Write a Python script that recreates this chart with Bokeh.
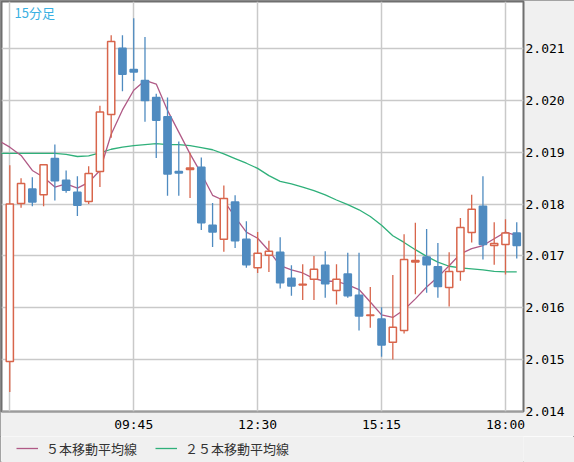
from bokeh.plotting import figure
from bokeh.layouts import column
from bokeh.models import Range1d, FixedTicker, Legend, LegendItem, Label, ColumnDataSource, NumeralTickFormatter
from bokeh.embed import file_html
from bokeh.resources import INLINE

# ---- data (15-minute bars) ----
opens = [2.01496, 2.01801, 2.01829, 2.01818, 2.01888, 2.01846, 2.01823, 2.01805, 2.01863, 2.01973,
         2.02101, 2.02060, 2.02039, 2.02006, 2.01969, 2.01863, 2.01867, 2.01871, 2.01759, 2.01732,
         2.01804, 2.01732, 2.01677, 2.01701, 2.01707, 2.01657, 2.01644, 2.01655, 2.01682, 2.01633,
         2.01665, 2.01624, 2.01585, 2.01578, 2.01533, 2.01556, 2.01688, 2.01698, 2.01679, 2.01639,
         2.01670, 2.01745, 2.01796, 2.01720, 2.01722, 2.01744]
highs = [2.01875, 2.01850, 2.01852, 2.01876, 2.01915, 2.01865, 2.01854, 2.01873, 2.01990, 2.02126,
         2.02126, 2.02159, 2.02123, 2.02013, 2.02006, 2.01921, 2.01899, 2.01890, 2.01802, 2.01836,
         2.01817, 2.01767, 2.01746, 2.01729, 2.01736, 2.01682, 2.01684, 2.01700, 2.01709, 2.01684,
         2.01706, 2.01706, 2.01640, 2.01601, 2.01663, 2.01742, 2.01764, 2.01752, 2.01725, 2.01707,
         2.01773, 2.01818, 2.01854, 2.01765, 2.01771, 2.01765]
lows = [2.01437, 2.01793, 2.01796, 2.01796, 2.01807, 2.01822, 2.01777, 2.01800, 2.01833, 2.01928,
        2.02018, 2.02038, 2.01959, 2.01889, 2.01816, 2.01816, 2.01812, 2.01750, 2.01717, 2.01708,
        2.01715, 2.01677, 2.01667, 2.01669, 2.01637, 2.01623, 2.01615, 2.01615, 2.01619, 2.01606,
        2.01619, 2.01556, 2.01561, 2.01505, 2.01500, 2.01550, 2.01626, 2.01629, 2.01619, 2.01602,
        2.01652, 2.01726, 2.01693, 2.01683, 2.01664, 2.01695]
closes = [2.01800, 2.01840, 2.01804, 2.01876, 2.01845, 2.01827, 2.01798, 2.01859, 2.01978, 2.02114,
          2.02051, 2.02055, 2.02000, 2.01962, 2.01858, 2.01860, 2.01870, 2.01764, 2.01746, 2.01811,
          2.01729, 2.01683, 2.01705, 2.01709, 2.01648, 2.01642, 2.01645, 2.01674, 2.01646, 2.01655,
          2.01623, 2.01584, 2.01586, 2.01528, 2.01562, 2.01693, 2.01691, 2.01683, 2.01641, 2.01670,
          2.01755, 2.01790, 2.01722, 2.01724, 2.01744, 2.01720]

# moving averages, starting one bar before the first visible candle
ma5 = [2.01923, 2.01910, 2.01894, 2.01865, 2.01852, 2.01833, 2.01839, 2.01831, 2.01842, 2.01865,
       2.01935, 2.01982, 2.02020, 2.02039, 2.02032, 2.01981, 2.01939, 2.01897, 2.01859, 2.01817,
       2.01807, 2.01775, 2.01746, 2.01734, 2.01710, 2.01681, 2.01673, 2.01667, 2.01656, 2.01651,
       2.01651, 2.01644, 2.01635, 2.01611, 2.01586, 2.01581, 2.01596, 2.01617, 2.01640, 2.01659,
       2.01681, 2.01704, 2.01714, 2.01720, 2.01733, 2.01746, 2.01739]
ma25 = [2.01898, 2.01898, 2.01898, 2.01898, 2.01898, 2.01898, 2.01896, 2.01892, 2.01893, 2.01899,
        2.01906, 2.01910, 2.01913, 2.01915, 2.01917, 2.01915, 2.01915, 2.01913, 2.01909, 2.01905,
        2.01897, 2.01888, 2.01879, 2.01869, 2.01855, 2.01844, 2.01839, 2.01833, 2.01826, 2.01818,
        2.01808, 2.01799, 2.01789, 2.01776, 2.01759, 2.01739, 2.01726, 2.01712, 2.01699, 2.01688,
        2.01680, 2.01677, 2.01675, 2.01673, 2.01670, 2.01669, 2.01669]

x_tick_pos = [0, 11, 22, 33, 44]
x_tick_labels = ["", "09:45", "12:30", "15:15", "18:00"]
y_ticks = [2.014, 2.015, 2.016, 2.017, 2.018, 2.019, 2.020, 2.021]
title_text = "15分足"
ma5_label = "５本移動平均線"
ma25_label = "２５本移動平均線"

UP = "#d8654b"
DOWN = "#4f8bc0"
MA5_C = "#b05a86"
MA25_C = "#2fb07a"
MONO = "DejaVu Sans Mono"
CJK = "Noto Sans CJK JP"
BG = "#f0f0f0"

idx = list(range(len(opens)))
ma_idx = list(range(-1, len(opens)))

up_flags = [c >= o for o, c in zip(opens, closes)]
src = ColumnDataSource(dict(
    x=idx, o=opens, h=highs, l=lows, c=closes,
    top=[max(o, c) for o, c in zip(opens, closes)],
    bot=[min(o, c) for o, c in zip(opens, closes)],
    col=[UP if u else DOWN for u in up_flags],
    fill=["white" if u else DOWN for u in up_flags],
))

p = figure(width=574, height=436,
           x_range=Range1d(-0.737, 45.6), y_range=Range1d(2.013994, 2.021914),
           y_axis_location="right", output_backend="svg", toolbar_location=None,
           min_border_left=1, min_border_top=1, min_border_right=51, min_border_bottom=25,
           background_fill_color="white", border_fill_color=BG,
           outline_line_color="#6f6f6f", outline_line_width=2)

# grid
p.xgrid.ticker = FixedTicker(ticks=x_tick_pos)
p.ygrid.ticker = FixedTicker(ticks=y_ticks)
p.grid.grid_line_color = "#c9c9c9"
p.grid.grid_line_width = 1.5

# moving averages
r25 = p.line(ma_idx, ma25, line_color=MA25_C, line_width=1.3)
r5 = p.line(ma_idx, ma5, line_color=MA5_C, line_width=1.3)

# candles
p.segment(x0="x", y0="h", x1="x", y1="l", source=src, line_color="col", line_width=1.3)
p.vbar(x="x", width=0.64, top="top", bottom="bot", source=src,
       fill_color="fill", line_color="col", line_width=1.5)

# axes
xa = p.xaxis[0]
xa.ticker = FixedTicker(ticks=x_tick_pos)
xa.major_label_overrides = {t: s for t, s in zip(x_tick_pos, x_tick_labels)}
ya = p.yaxis[0]
ya.ticker = FixedTicker(ticks=y_ticks)
ya.formatter = NumeralTickFormatter(format="0.000")
for ax in (xa, ya):
    ax.axis_line_color = None
    ax.major_tick_line_color = None
    ax.minor_tick_line_color = None
    ax.major_tick_out = 0
    ax.major_tick_in = 0
    ax.major_label_text_font = MONO
    ax.major_label_text_font_size = "13px"
    ax.major_label_text_color = "#000000"
xa.major_label_standoff = 5
ya.major_label_standoff = 2

# title label
p.add_layout(Label(x=0.42, y=2.02188, text=title_text, text_baseline="top",
                   text_font=CJK, text_font_size="13px", text_color="#3ab0e2"))

# ---- legend strip below the chart ----
p2 = figure(width=574, height=26, output_backend="svg", toolbar_location=None,
            x_axis_type=None, y_axis_type=None, x_range=Range1d(0, 1), y_range=Range1d(0, 1),
            min_border=0, background_fill_color=BG, border_fill_color=BG,
            outline_line_color=None)
p2.grid.visible = False
l5 = p2.line([0.0, 0.0], [float("nan"), float("nan")], line_color=MA5_C, line_width=1.3)
l25 = p2.line([0.0, 0.0], [float("nan"), float("nan")], line_color=MA25_C, line_width=1.3)
legend = Legend(items=[LegendItem(label=ma5_label, renderers=[l5]),
                       LegendItem(label=ma25_label, renderers=[l25])],
                orientation="horizontal", location=(15, 4),
                glyph_width=22, glyph_height=20, label_standoff=8, spacing=18,
                padding=0, margin=0, label_text_font=CJK, label_text_font_size="13px",
                label_text_color="#333333", background_fill_alpha=0, border_line_alpha=0,
                label_height=20)
p2.add_layout(legend, "center")

lay = column(p, p2, spacing=0)
lay.styles = {"outline": "1px solid #8a8a8a", "outline-offset": "-1px"}

open("out.html", "w").write(file_html(lay, INLINE))
